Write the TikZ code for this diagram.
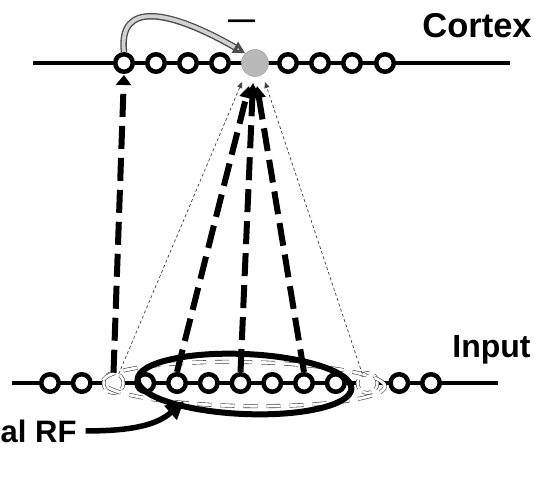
\documentclass[tikz,border=0pt]{standalone}
\usepackage{fontspec}
\setmainfont{Liberation Sans}
\usetikzlibrary{arrows.meta,calc}
\begin{document}
\begin{tikzpicture}[x=1pt,y=-1pt,
  cell/.style={circle,draw=black,line width=4.5pt,fill=white,minimum size=17.5pt,inner sep=0pt},
  gcell/.style={circle,draw=black!75,line width=0.6pt,double=white,double distance=2.5pt,dash pattern=on 9pt off 5pt,fill=white,minimum size=20pt,inner sep=0pt},
  hot/.style={circle,fill=gray!55,draw=gray!70,line width=0.6pt,minimum size=27pt,inner sep=0pt},
  axon/.style={line width=4.5pt},
  feed/.style={line width=6pt,dash pattern=on 23pt off 9pt,-{Triangle[length=12pt,width=13pt]}},
  faint/.style={line width=0.7pt,black!75,dash pattern=on 3pt off 2.5pt,-{Triangle[length=6pt,width=5pt]}},
  ghost/.style={draw=black!75,line width=0.6pt,double=white,double distance=2.8pt,dash pattern=on 14pt off 9pt},
  lbl/.style={inner sep=0pt}
]
\useasboundingbox (0,0) rectangle (534,480);
\fill[white] (0,0) rectangle (534,480);
\clip (0,0) rectangle (534,480);

% cortex layer
\coordinate (cL) at (33,63);
\coordinate (cR) at (510,63);
\draw[axon] (cL) -- (cR);
\foreach \n/\x in {c1/124,c2/156,c3/188,c4/220,c6/288,c7/320,c8/352,c9/385}
  \node[cell] (\n) at (\x,63) {};
\node[hot] (g) at (255,63) {};

% input layer
\coordinate (iL) at (12,383);
\coordinate (iR) at (498,383);
\draw[axon] (iL) -- (iR);
\foreach \n/\x in {i1/50,i2/81.75,i4/145.25,i5/177,i6/208.75,i7/240.5,i8/272.25,i9/304,i10/335.75,i12/399.25,i13/431}
  \node[cell] (\n) at (\x,383) {};
\node[gcell] (i3) at (113.5,383) {};
\node[gcell] (i11) at (367.5,383) {};

% receptive fields
\draw[ghost, rotate around={-1:(244,384)}] (244,384) ellipse [x radius=141pt, y radius=22pt];
\draw[line width=6pt, rotate around={-2.5:(244.5,384)}] (244.5,384) ellipse [x radius=107pt, y radius=30pt];

% feedforward connections
\coordinate (tL) at (242,82);
\coordinate (tA) at (249,86);
\coordinate (tB) at (253,83);
\coordinate (tC) at (257,86);
\coordinate (tR) at (265,82);
\draw[faint] (i3.60) -- (tL);
\draw[faint] (i11.120) -- (tR);
\draw[feed] (i5.north) -- (tA);
\draw[feed] (i7.north) -- (tB);
\draw[feed] (i9.north) -- (tC);
\draw[feed, -{Triangle[length=10pt,width=15pt]}, shorten >=1pt] (i3.north) -- (c1.south);

% lateral inhibition
\draw[line width=6.5pt, black!70, shorten >=10pt] (c1.north) .. controls (118,0) and (170,10) .. (g.north west);
\draw[line width=3.8pt, gray!35, -{Triangle[length=12pt,width=12pt,color=black!70,fill=gray!40]}] (c1.north) .. controls (118,0) and (170,10) .. (g.north west);

% labels
\node[lbl, anchor=base, font=\bfseries\fontsize{27}{30}\selectfont] (minus) at (241.5,28) {—};
\node[lbl, anchor=base, font=\bfseries\fontsize{34.5}{40}\selectfont] (ctx) at (477,37) {Cortex};
\node[lbl, anchor=base, font=\bfseries\fontsize{32}{38}\selectfont] (inp) at (491.5,357) {Input};
\node[lbl, anchor=base west, font=\bfseries\fontsize{31}{36}\selectfont] (lab) at (0.5,442) {al RF};

\coordinate (rfend) at (184,401);
\draw[line width=5.5pt, -{Triangle[length=18pt,width=18pt]}] ([xshift=9pt]lab.east) .. controls (135,431) and (158,424) .. (rfend);
\end{tikzpicture}
\end{document}
